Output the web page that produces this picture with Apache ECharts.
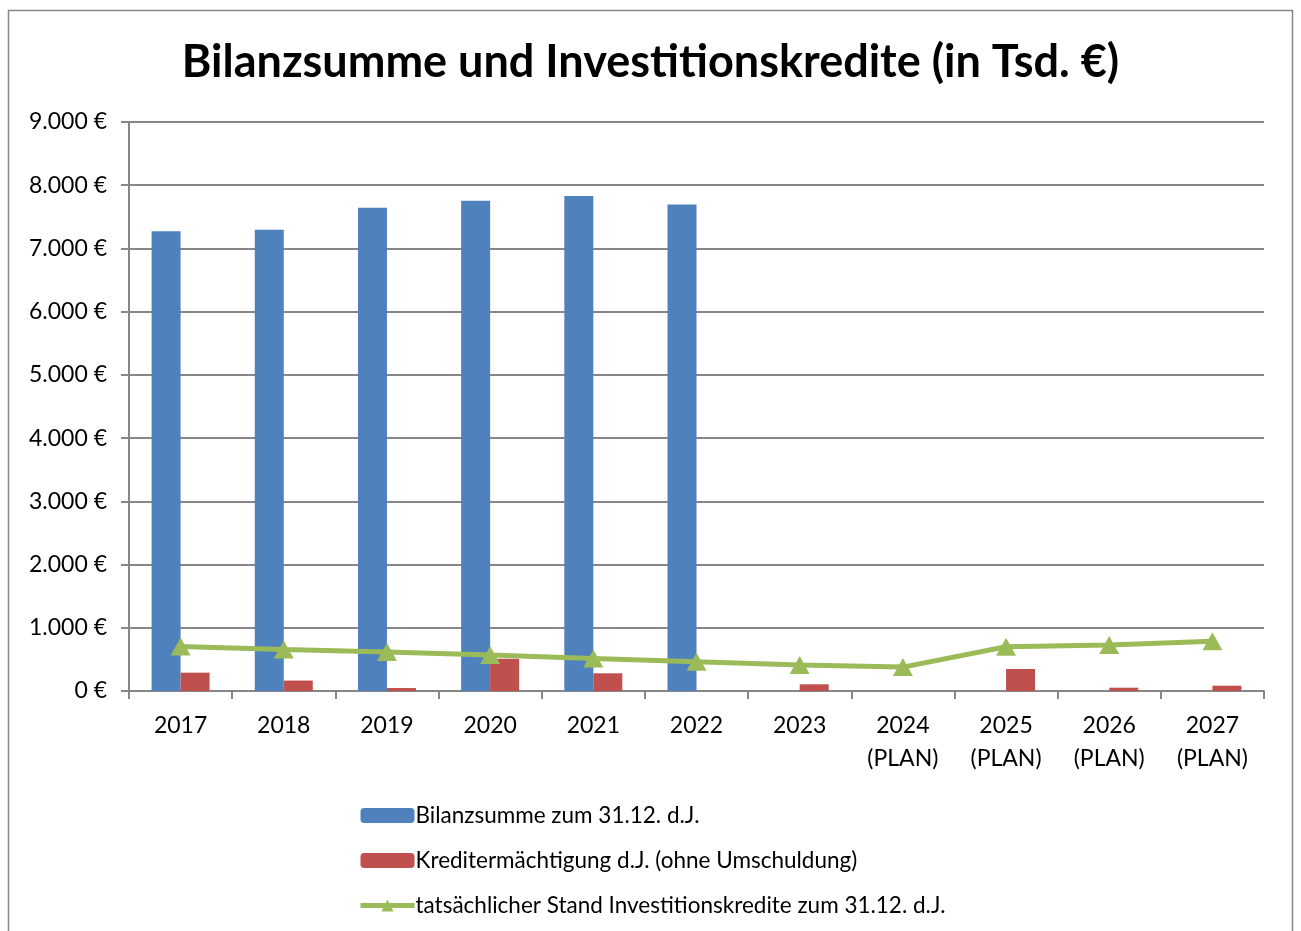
<!DOCTYPE html>
<html>
<head>
<meta charset="utf-8">
<script src="https://cdn.jsdelivr.net/npm/echarts@6/dist/echarts.min.js"></script>
<style>
  html, body { margin: 0; padding: 0; background: #fff; }
  #chart { width: 1301px; height: 931px; }
</style>
</head>
<body>
<div id="chart"></div>
<script>
// Kategorien (Jahre)
var jahre = ['2017', '2018', '2019', '2020', '2021', '2022', '2023', '2024\n(PLAN)', '2025\n(PLAN)', '2026\n(PLAN)', '2027\n(PLAN)'];

// Werte in Tsd. €
var bilanzsumme = [7270, 7295, 7645, 7755, 7830, 7695, null, null, null, null, null];
var kreditermaechtigung = [290, 165, 47, 510, 280, 0, 106, 0, 348, 52, 84];
var investitionskredite = [705, 655, 615, 568, 515, 462, 412, 378, 700, 728, 785];

var namen = ['Bilanzsumme zum 31.12. d.J.', 'Kreditermächtigung d.J. (ohne Umschuldung)', 'tatsächlicher Stand Investitionskredite zum 31.12. d.J.'];

var fontFam = 'Lato, "Open Sans", sans-serif';

function euro(v) {
    var s = String(v).replace(/\B(?=(\d{3})+(?!\d))/g, '.');
    return s + ' €';
}

var chart = echarts.init(document.getElementById('chart'));
var option = {
    animation: false,
    textStyle: { fontFamily: fontFam },
    title: {
        text: 'Bilanzsumme und Investitionskredite (in Tsd. €)',
        left: 'center',
        top: 35,
        textStyle: { fontSize: 45, fontWeight: 'bold', color: '#000', fontFamily: fontFam }
    },
    graphic: [{
        type: 'rect',
        shape: { x: 8.5, y: 10.5, width: 1284, height: 940 },
        style: { fill: 'none', stroke: '#878787', lineWidth: 1.5 },
        silent: true
    }],
    legend: {
        orient: 'vertical',
        left: 353,
        top: 799,
        itemGap: 22,
        itemWidth: 54,
        itemHeight: 15,
        lineStyle: { width: 5 },
        textStyle: { fontSize: 22.5, color: '#000', padding: [0, 0, 0, -4] },
        data: namen
    },
    grid: { left: 129, right: 37, top: 122, bottom: 240 },
    xAxis: {
        type: 'category',
        data: jahre,
        axisLine: { lineStyle: { color: '#878787', width: 2 } },
        axisTick: { show: true, length: 8, lineStyle: { color: '#878787', width: 2 } },
        axisLabel: { fontSize: 23, color: '#000', lineHeight: 33, margin: 18 }
    },
    yAxis: {
        type: 'value',
        min: 0,
        max: 9000,
        interval: 1000,
        axisLine: { show: true, lineStyle: { color: '#878787', width: 2 } },
        axisTick: { show: true, length: 8, lineStyle: { color: '#878787', width: 2 } },
        splitLine: { lineStyle: { color: '#878787', width: 2 } },
        axisLabel: { fontSize: 23, color: '#000', margin: 22, formatter: euro }
    },
    series: [{
        name: namen[0],
        type: 'bar',
        data: bilanzsumme,
        barWidth: 29,
        barGap: '0%',
        itemStyle: { color: '#4F81BD' }
    }, {
        name: namen[1],
        type: 'bar',
        data: kreditermaechtigung,
        barWidth: 29,
        itemStyle: { color: '#C0504D' }
    }, {
        name: namen[2],
        type: 'line',
        data: investitionskredite,
        symbol: 'triangle',
        symbolSize: [20, 18],
        lineStyle: { color: '#9BBB59', width: 5 },
        itemStyle: { color: '#9BBB59' },
        z: 5
    }]
};
chart.setOption(option);
</script>
</body>
</html>
